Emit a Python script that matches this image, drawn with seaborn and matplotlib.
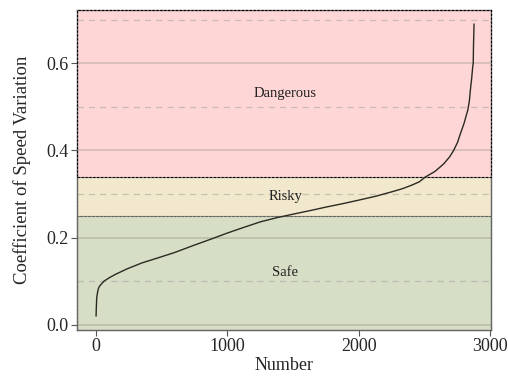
import matplotlib
matplotlib.use("Agg")
import matplotlib.pyplot as plt
import matplotlib.patches as mpatches
import seaborn as sns
import pandas as pd

# Sorted coefficient of speed variation
number = [0, 2, 5, 10, 15, 20, 30, 45, 60, 80, 107, 150, 234, 350, 487, 600, 741,
          870, 995, 1120, 1249, 1380, 1503, 1630, 1750, 1880, 2000, 2130, 2250,
          2330, 2400, 2460, 2506, 2580, 2645, 2690, 2721, 2750, 2772, 2800, 2828,
          2840, 2848, 2858, 2866, 2870, 2872, 2876]
cv = [0.020, 0.040, 0.062, 0.072, 0.080, 0.085, 0.090, 0.095, 0.100, 0.104, 0.109,
      0.116, 0.128, 0.142, 0.155, 0.166, 0.182, 0.196, 0.210, 0.223, 0.236, 0.246,
      0.254, 0.262, 0.270, 0.278, 0.286, 0.295, 0.305, 0.312, 0.320, 0.328, 0.339,
      0.352, 0.369, 0.385, 0.400, 0.418, 0.438, 0.462, 0.492, 0.512, 0.538, 0.565,
      0.592, 0.600, 0.640, 0.690]

zone_names = ["Safe", "Risky", "Dangerous"]
zone_low = [-0.012, 0.25, 0.338]
zone_high = [0.25, 0.338, 0.722]
zone_colors = ["#d6dec6", "#f2e8cd", "#ffd6d6"]
zone_edges = ["#666666", "#666666", "#000000"]

sns.set_theme(style="white")
plt.rcParams["font.family"] = ["Liberation Serif", "DejaVu Serif"]

fig = plt.figure(figsize=(5.08, 3.76), dpi=100)
ax = fig.add_axes([0.1516, 0.1223, 0.8149, 0.8511])

xlim = (-145, 3005)
ylim = (-0.012, 0.722)

for name, lo, hi, c, ec in zip(zone_names, zone_low, zone_high, zone_colors, zone_edges):
    ax.axhspan(lo, hi, facecolor=c, edgecolor="none", zorder=0)
    ax.text(1438, (lo + hi) / 2, name, ha="center", va="center", fontsize=10.5,
            color="#222222", zorder=4)
    outline = mpatches.Rectangle((0, lo), 1, hi - lo, transform=ax.get_yaxis_transform(),
                                 facecolor="none", edgecolor=ec,
                                 linestyle=(0, (2, 1.5)), linewidth=0.8,
                                 zorder=2.6 if ec == "#000000" else 0.8,
                                 clip_on=False)
    ax.add_patch(outline)

df = pd.DataFrame({"Number": number, "CV": cv})
sns.lineplot(data=df, x="Number", y="CV", ax=ax, color="#2a2a22", linewidth=1.0,
             zorder=3)

ax.set_xlim(*xlim)
ax.set_ylim(*ylim)
ax.set_xticks([0, 1000, 2000, 3000])
ax.set_yticks([0.0, 0.2, 0.4, 0.6])
ax.set_yticklabels(["0.0", "0.2", "0.4", "0.6"])
ax.set_yticks([0.1, 0.3, 0.5, 0.7], minor=True)

ax.grid(False)
for v in [0.0, 0.2, 0.4, 0.6]:
    ax.axhline(v, color="#9a9a8a", alpha=0.45, linewidth=1.2, zorder=0.5)
for v in [0.1, 0.3, 0.5, 0.7]:
    ax.axhline(v, color="#a8a8a0", alpha=0.6, linewidth=0.9, linestyle=(0, (5, 4)),
               zorder=0.5)

ax.tick_params(axis="both", which="major", direction="out", length=4.5, width=0.8,
               color="#555555", labelsize=13, pad=1.5, left=True, bottom=True)
ax.tick_params(axis="y", which="minor", length=0)
for s in ax.spines.values():
    s.set_color("#666666")
    s.set_linewidth(1.0)

ax.set_xlabel("Number", fontsize=13, labelpad=1)
ax.set_ylabel("Coefficient of Speed Variation", fontsize=13.5, labelpad=11)

fig.savefig("out.png", dpi=100)
